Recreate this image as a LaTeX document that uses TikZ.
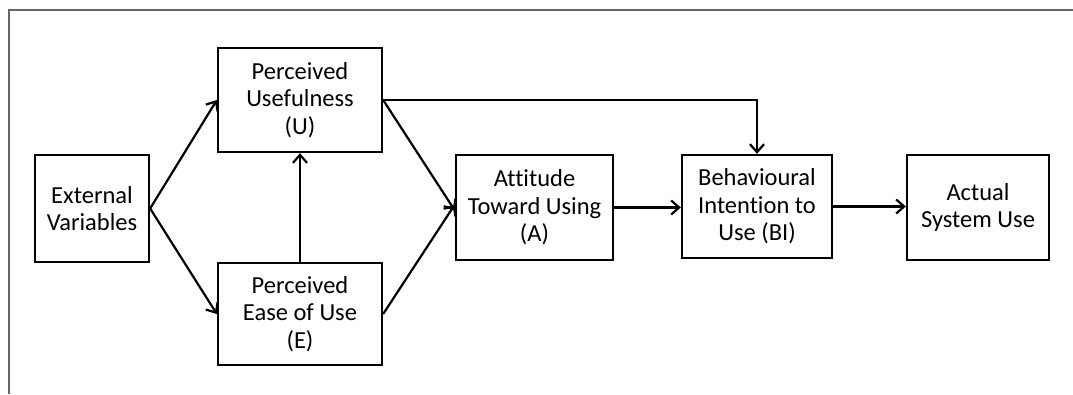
\documentclass[tikz,border=0pt]{standalone}
\usepackage{fontspec}
\setmainfont[Ligatures=NoCommon]{Carlito}
\usetikzlibrary{arrows.meta}
\begin{document}
\begin{tikzpicture}[x=1pt,y=-1pt,
  box/.style={draw,line width=2.3pt,align=center,inner sep=0pt,
    font=\fontsize{24.5}{27.5}\selectfont},
  link/.style={line width=2.2pt,-{Straight Barb[length=8pt,width=14pt,line width=2.2pt]}}]
\useasboundingbox (0,0) rectangle (1073,394);
% outer frame (top and left edges only)
\draw[line width=1.6pt,black!60] (9,394) -- (9,10) -- (1073,10);
% boxes
\node[box,minimum width=114pt,minimum height=107pt] (ext) at (92,208.5) {External\\Variables};
\node[box,minimum width=164pt,minimum height=104pt] (pu) at (300,100) {Perceived\\Usefulness\\(U)};
\node[box,minimum width=164pt,minimum height=102pt] (pe) at (300,314) {Perceived\\Ease of Use\\(E)};
\node[box,minimum width=157pt,minimum height=105pt] (att) at (534.5,207.5) {Attitude\\Toward Using\\(A)};
\node[box,minimum width=150pt,minimum height=103pt] (bi) at (757,206.5) {Behavioural\\Intention to\\Use (BI)};
\node[box,minimum width=142pt,minimum height=105pt] (use) at (978,207.5) {Actual\\System Use};
% connectors
\draw[link] (ext.east) -- (pu.west);
\draw[link] (ext.east) -- (pe.west);
\draw[link] (pe.north) -- (pu.south);
\draw[link] (pu.east) -- ([yshift=-3pt]att.west);
\draw[link] (pe.east) -- ([yshift=3pt]att.west);
\draw[link] (pu.east) -- (pu.east -| bi.north) -- (bi.north);
\draw[link] (att.east) -- (att.east -| bi.west);
\draw[link] (bi.east) -- (bi.east -| use.west);
\end{tikzpicture}
\end{document}
